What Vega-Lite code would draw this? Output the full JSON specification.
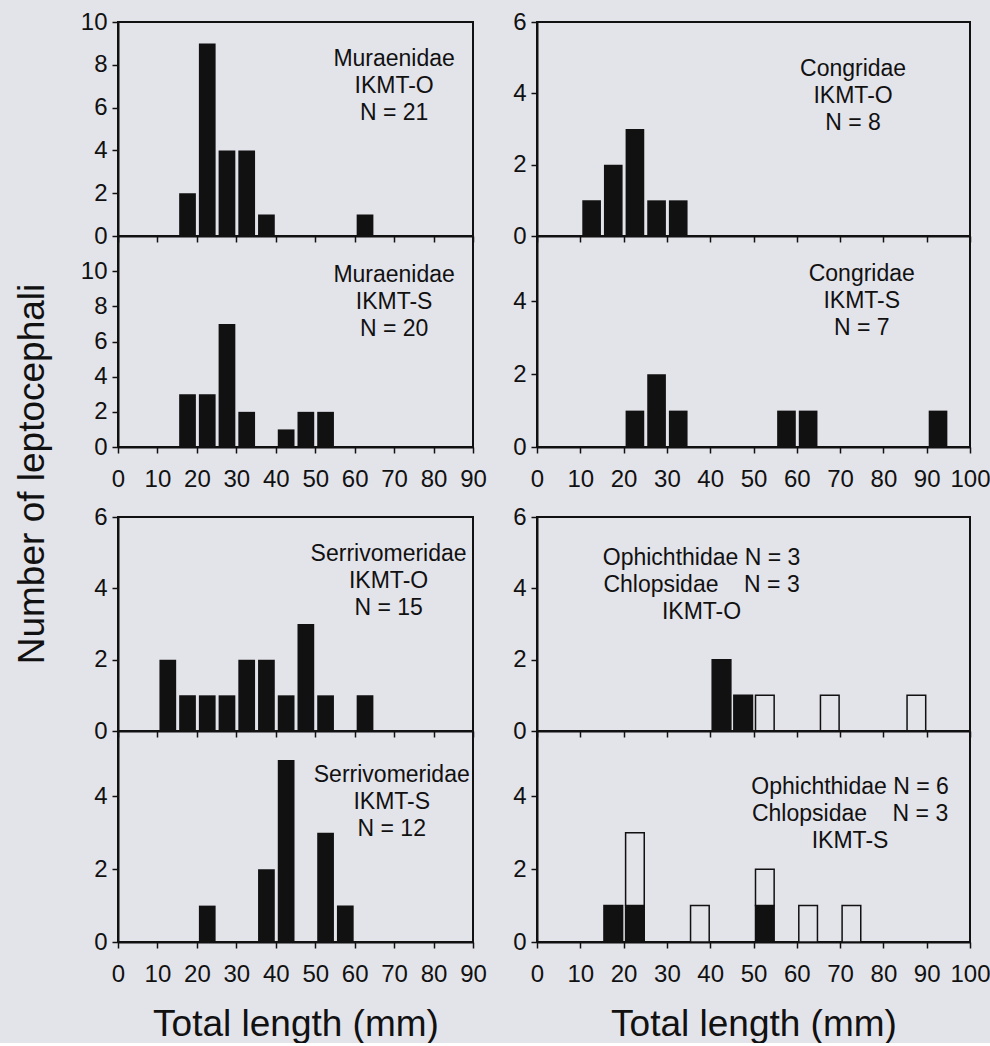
{
  "$schema": "https://vega.github.io/schema/vega-lite/v6.json",
  "padding": {"left": 14, "top": 9, "right": 0, "bottom": 0},
  "background": "#e3e3ea",
  "title": {"text": "Number of leptocephali", "orient": "left", "anchor": "middle", "fontSize": 37, "fontWeight": "normal", "color": "#111", "offset": 27, "dx": 52},
  "datasets": {
    "bars": [
      {"panel": "p1", "family": "Muraenidae", "lo": 15, "hi": 20, "count": 2},
      {"panel": "p1", "family": "Muraenidae", "lo": 20, "hi": 25, "count": 9},
      {"panel": "p1", "family": "Muraenidae", "lo": 25, "hi": 30, "count": 4},
      {"panel": "p1", "family": "Muraenidae", "lo": 30, "hi": 35, "count": 4},
      {"panel": "p1", "family": "Muraenidae", "lo": 35, "hi": 40, "count": 1},
      {"panel": "p1", "family": "Muraenidae", "lo": 60, "hi": 65, "count": 1},
      {"panel": "p2", "family": "Muraenidae", "lo": 15, "hi": 20, "count": 3},
      {"panel": "p2", "family": "Muraenidae", "lo": 20, "hi": 25, "count": 3},
      {"panel": "p2", "family": "Muraenidae", "lo": 25, "hi": 30, "count": 7},
      {"panel": "p2", "family": "Muraenidae", "lo": 30, "hi": 35, "count": 2},
      {"panel": "p2", "family": "Muraenidae", "lo": 40, "hi": 45, "count": 1},
      {"panel": "p2", "family": "Muraenidae", "lo": 45, "hi": 50, "count": 2},
      {"panel": "p2", "family": "Muraenidae", "lo": 50, "hi": 55, "count": 2},
      {"panel": "p3", "family": "Congridae", "lo": 10, "hi": 15, "count": 1},
      {"panel": "p3", "family": "Congridae", "lo": 15, "hi": 20, "count": 2},
      {"panel": "p3", "family": "Congridae", "lo": 20, "hi": 25, "count": 3},
      {"panel": "p3", "family": "Congridae", "lo": 25, "hi": 30, "count": 1},
      {"panel": "p3", "family": "Congridae", "lo": 30, "hi": 35, "count": 1},
      {"panel": "p4", "family": "Congridae", "lo": 20, "hi": 25, "count": 1},
      {"panel": "p4", "family": "Congridae", "lo": 25, "hi": 30, "count": 2},
      {"panel": "p4", "family": "Congridae", "lo": 30, "hi": 35, "count": 1},
      {"panel": "p4", "family": "Congridae", "lo": 55, "hi": 60, "count": 1},
      {"panel": "p4", "family": "Congridae", "lo": 60, "hi": 65, "count": 1},
      {"panel": "p4", "family": "Congridae", "lo": 90, "hi": 95, "count": 1},
      {"panel": "p5", "family": "Serrivomeridae", "lo": 10, "hi": 15, "count": 2},
      {"panel": "p5", "family": "Serrivomeridae", "lo": 15, "hi": 20, "count": 1},
      {"panel": "p5", "family": "Serrivomeridae", "lo": 20, "hi": 25, "count": 1},
      {"panel": "p5", "family": "Serrivomeridae", "lo": 25, "hi": 30, "count": 1},
      {"panel": "p5", "family": "Serrivomeridae", "lo": 30, "hi": 35, "count": 2},
      {"panel": "p5", "family": "Serrivomeridae", "lo": 35, "hi": 40, "count": 2},
      {"panel": "p5", "family": "Serrivomeridae", "lo": 40, "hi": 45, "count": 1},
      {"panel": "p5", "family": "Serrivomeridae", "lo": 45, "hi": 50, "count": 3},
      {"panel": "p5", "family": "Serrivomeridae", "lo": 50, "hi": 55, "count": 1},
      {"panel": "p5", "family": "Serrivomeridae", "lo": 60, "hi": 65, "count": 1},
      {"panel": "p6", "family": "Serrivomeridae", "lo": 20, "hi": 25, "count": 1},
      {"panel": "p6", "family": "Serrivomeridae", "lo": 35, "hi": 40, "count": 2},
      {"panel": "p6", "family": "Serrivomeridae", "lo": 40, "hi": 45, "count": 5},
      {"panel": "p6", "family": "Serrivomeridae", "lo": 50, "hi": 55, "count": 3},
      {"panel": "p6", "family": "Serrivomeridae", "lo": 55, "hi": 60, "count": 1},
      {"panel": "p7", "family": "Chlopsidae", "lo": 40, "hi": 45, "count": 2},
      {"panel": "p7", "family": "Chlopsidae", "lo": 45, "hi": 50, "count": 1},
      {"panel": "p7", "family": "Ophichthidae", "lo": 50, "hi": 55, "count": 1},
      {"panel": "p7", "family": "Ophichthidae", "lo": 65, "hi": 70, "count": 1},
      {"panel": "p7", "family": "Ophichthidae", "lo": 85, "hi": 90, "count": 1},
      {"panel": "p8", "family": "Chlopsidae", "lo": 15, "hi": 20, "count": 1},
      {"panel": "p8", "family": "Chlopsidae", "lo": 20, "hi": 25, "count": 1},
      {"panel": "p8", "family": "Chlopsidae", "lo": 50, "hi": 55, "count": 1},
      {"panel": "p8", "family": "Ophichthidae", "lo": 20, "hi": 25, "count": 2},
      {"panel": "p8", "family": "Ophichthidae", "lo": 35, "hi": 40, "count": 1},
      {"panel": "p8", "family": "Ophichthidae", "lo": 50, "hi": 55, "count": 1},
      {"panel": "p8", "family": "Ophichthidae", "lo": 60, "hi": 65, "count": 1},
      {"panel": "p8", "family": "Ophichthidae", "lo": 70, "hi": 75, "count": 1}
    ],
    "notes": [
      {"panel": "p1", "label": "Muraenidae\nIKMT-O\nN = 21"},
      {"panel": "p2", "label": "Muraenidae\nIKMT-S\nN = 20"},
      {"panel": "p3", "label": "Congridae\nIKMT-O\nN = 8"},
      {"panel": "p4", "label": "Congridae\nIKMT-S\nN = 7"},
      {"panel": "p5", "label": "Serrivomeridae\nIKMT-O\nN = 15"},
      {"panel": "p6", "label": "Serrivomeridae\nIKMT-S\nN = 12"},
      {"panel": "p7", "label": "Ophichthidae N = 3\nChlopsidae\u00a0\u00a0\u00a0\u00a0N = 3\nIKMT-O"},
      {"panel": "p8", "label": "Ophichthidae N = 6\nChlopsidae\u00a0\u00a0\u00a0\u00a0N = 3\nIKMT-S"}
    ]
  },
  "spacing": 12,
  "vconcat": [
    {
      "spacing": 23,
      "hconcat": [
        {
          "spacing": 0, "bounds": "flush",
          "vconcat": [
            {
              "width": 355, "height": 214,
              "layer": [
                {"data": {"name": "bars"}, "transform": [{"filter": "datum.panel === 'p1'"}],
                 "mark": {"type": "bar", "color": "#111", "binSpacing": 3},
                 "encoding": {
                   "x": {"field": "lo", "type": "quantitative", "bin": "binned", "scale": {"domain": [0, 90], "nice": false}, "axis": {"values": [0,10,20,30,40,50,60,70,80,90], "labels": false, "title": null}},
                   "x2": {"field": "hi"},
                   "y": {"field": "count", "type": "quantitative", "scale": {"domain": [0, 10], "nice": false}, "axis": {"values": [0,2,4,6,8,10], "title": null}}
                 }},
                {"data": {"name": "notes"}, "transform": [{"filter": "datum.panel === 'p1'"}],
                 "mark": {"type": "text", "lineBreak": "\n", "align": "center", "baseline": "top", "fontSize": 23, "lineHeight": 27, "color": "#111"},
                 "encoding": {
                   "x": {"datum": 70, "type": "quantitative", "scale": {"domain": [0, 90], "nice": false}, "axis": {"values": [0,10,20,30,40,50,60,70,80,90], "labels": false, "title": null}},
                   "y": {"datum": 8.8, "type": "quantitative", "scale": {"domain": [0, 10], "nice": false}, "axis": {"values": [0,2,4,6,8,10], "title": null}},
                   "text": {"field": "label"}
                 }}
              ]
            },
            {
              "width": 355, "height": 211,
              "layer": [
                {"data": {"name": "bars"}, "transform": [{"filter": "datum.panel === 'p2'"}],
                 "mark": {"type": "bar", "color": "#111", "binSpacing": 3},
                 "encoding": {
                   "x": {"field": "lo", "type": "quantitative", "bin": "binned", "scale": {"domain": [0, 90], "nice": false}, "axis": {"values": [0,10,20,30,40,50,60,70,80,90], "title": null}},
                   "x2": {"field": "hi"},
                   "y": {"field": "count", "type": "quantitative", "scale": {"domain": [0, 12], "nice": false}, "axis": {"values": [0,2,4,6,8,10], "title": null}}
                 }},
                {"data": {"name": "notes"}, "transform": [{"filter": "datum.panel === 'p2'"}],
                 "mark": {"type": "text", "lineBreak": "\n", "align": "center", "baseline": "top", "fontSize": 23, "lineHeight": 27, "color": "#111"},
                 "encoding": {
                   "x": {"datum": 70, "type": "quantitative", "scale": {"domain": [0, 90], "nice": false}, "axis": {"values": [0,10,20,30,40,50,60,70,80,90], "title": null}},
                   "y": {"datum": 10.4, "type": "quantitative", "scale": {"domain": [0, 12], "nice": false}, "axis": {"values": [0,2,4,6,8,10], "title": null}},
                   "text": {"field": "label"}
                 }}
              ]
            }
          ]
        },
        {
          "spacing": 0, "bounds": "flush",
          "vconcat": [
            {
              "width": 433, "height": 214,
              "layer": [
                {"data": {"name": "bars"}, "transform": [{"filter": "datum.panel === 'p3'"}],
                 "mark": {"type": "bar", "color": "#111", "binSpacing": 3},
                 "encoding": {
                   "x": {"field": "lo", "type": "quantitative", "bin": "binned", "scale": {"domain": [0, 100], "nice": false}, "axis": {"values": [0,10,20,30,40,50,60,70,80,90,100], "labels": false, "title": null}},
                   "x2": {"field": "hi"},
                   "y": {"field": "count", "type": "quantitative", "scale": {"domain": [0, 6], "nice": false}, "axis": {"values": [0,2,4,6], "title": null}}
                 }},
                {"data": {"name": "notes"}, "transform": [{"filter": "datum.panel === 'p3'"}],
                 "mark": {"type": "text", "lineBreak": "\n", "align": "center", "baseline": "top", "fontSize": 23, "lineHeight": 27, "color": "#111"},
                 "encoding": {
                   "x": {"datum": 73, "type": "quantitative", "scale": {"domain": [0, 100], "nice": false}, "axis": {"values": [0,10,20,30,40,50,60,70,80,90,100], "labels": false, "title": null}},
                   "y": {"datum": 5.0, "type": "quantitative", "scale": {"domain": [0, 6], "nice": false}, "axis": {"values": [0,2,4,6], "title": null}},
                   "text": {"field": "label"}
                 }}
              ]
            },
            {
              "width": 433, "height": 211,
              "layer": [
                {"data": {"name": "bars"}, "transform": [{"filter": "datum.panel === 'p4'"}],
                 "mark": {"type": "bar", "color": "#111", "binSpacing": 3},
                 "encoding": {
                   "x": {"field": "lo", "type": "quantitative", "bin": "binned", "scale": {"domain": [0, 100], "nice": false}, "axis": {"values": [0,10,20,30,40,50,60,70,80,90,100], "title": null}},
                   "x2": {"field": "hi"},
                   "y": {"field": "count", "type": "quantitative", "scale": {"domain": [0, 5.8], "nice": false}, "axis": {"values": [0,2,4], "title": null}}
                 }},
                {"data": {"name": "notes"}, "transform": [{"filter": "datum.panel === 'p4'"}],
                 "mark": {"type": "text", "lineBreak": "\n", "align": "center", "baseline": "top", "fontSize": 23, "lineHeight": 27, "color": "#111"},
                 "encoding": {
                   "x": {"datum": 75, "type": "quantitative", "scale": {"domain": [0, 100], "nice": false}, "axis": {"values": [0,10,20,30,40,50,60,70,80,90,100], "title": null}},
                   "y": {"datum": 5.05, "type": "quantitative", "scale": {"domain": [0, 5.8], "nice": false}, "axis": {"values": [0,2,4], "title": null}},
                   "text": {"field": "label"}
                 }}
              ]
            }
          ]
        }
      ]
    },
    {
      "spacing": 23,
      "hconcat": [
        {
          "spacing": 0, "bounds": "flush",
          "vconcat": [
            {
              "width": 355, "height": 214,
              "layer": [
                {"data": {"name": "bars"}, "transform": [{"filter": "datum.panel === 'p5'"}],
                 "mark": {"type": "bar", "color": "#111", "binSpacing": 3},
                 "encoding": {
                   "x": {"field": "lo", "type": "quantitative", "bin": "binned", "scale": {"domain": [0, 90], "nice": false}, "axis": {"values": [0,10,20,30,40,50,60,70,80,90], "labels": false, "title": null}},
                   "x2": {"field": "hi"},
                   "y": {"field": "count", "type": "quantitative", "scale": {"domain": [0, 6], "nice": false}, "axis": {"values": [0,2,4,6], "title": null}}
                 }},
                {"data": {"name": "notes"}, "transform": [{"filter": "datum.panel === 'p5'"}],
                 "mark": {"type": "text", "lineBreak": "\n", "align": "center", "baseline": "top", "fontSize": 23, "lineHeight": 27, "color": "#111"},
                 "encoding": {
                   "x": {"datum": 68.6, "type": "quantitative", "scale": {"domain": [0, 90], "nice": false}, "axis": {"values": [0,10,20,30,40,50,60,70,80,90], "labels": false, "title": null}},
                   "y": {"datum": 5.28, "type": "quantitative", "scale": {"domain": [0, 6], "nice": false}, "axis": {"values": [0,2,4,6], "title": null}},
                   "text": {"field": "label"}
                 }}
              ]
            },
            {
              "width": 355, "height": 211,
              "layer": [
                {"data": {"name": "bars"}, "transform": [{"filter": "datum.panel === 'p6'"}],
                 "mark": {"type": "bar", "color": "#111", "binSpacing": 3},
                 "encoding": {
                   "x": {"field": "lo", "type": "quantitative", "bin": "binned", "scale": {"domain": [0, 90], "nice": false}, "axis": {"values": [0,10,20,30,40,50,60,70,80,90], "title": "Total length (mm)"}},
                   "x2": {"field": "hi"},
                   "y": {"field": "count", "type": "quantitative", "scale": {"domain": [0, 5.8], "nice": false}, "axis": {"values": [0,2,4], "title": null}}
                 }},
                {"data": {"name": "notes"}, "transform": [{"filter": "datum.panel === 'p6'"}],
                 "mark": {"type": "text", "lineBreak": "\n", "align": "center", "baseline": "top", "fontSize": 23, "lineHeight": 27, "color": "#111"},
                 "encoding": {
                   "x": {"datum": 69.4, "type": "quantitative", "scale": {"domain": [0, 90], "nice": false}, "axis": {"values": [0,10,20,30,40,50,60,70,80,90], "title": "Total length (mm)"}},
                   "y": {"datum": 4.9, "type": "quantitative", "scale": {"domain": [0, 5.8], "nice": false}, "axis": {"values": [0,2,4], "title": null}},
                   "text": {"field": "label"}
                 }}
              ]
            }
          ]
        },
        {
          "spacing": 0, "bounds": "flush",
          "vconcat": [
            {
              "width": 433, "height": 214,
              "layer": [
                {"data": {"name": "bars"}, "transform": [{"filter": "datum.panel === 'p7'"}],
                 "mark": {"type": "bar", "stroke": "#111", "strokeWidth": 1.5, "binSpacing": 3},
                 "encoding": {
                   "x": {"field": "lo", "type": "quantitative", "bin": "binned", "scale": {"domain": [0, 100], "nice": false}, "axis": {"values": [0,10,20,30,40,50,60,70,80,90,100], "labels": false, "title": null}},
                   "x2": {"field": "hi"},
                   "y": {"field": "count", "type": "quantitative", "stack": "zero", "scale": {"domain": [0, 6], "nice": false}, "axis": {"values": [0,2,4,6], "title": null}},
                   "color": {"field": "family", "type": "nominal", "scale": {"domain": ["Chlopsidae", "Ophichthidae"], "range": ["#111111", "#e3e3ea"]}, "legend": null},
                   "order": {"field": "family", "sort": "ascending"}
                 }},
                {"data": {"name": "notes"}, "transform": [{"filter": "datum.panel === 'p7'"}],
                 "mark": {"type": "text", "lineBreak": "\n", "align": "center", "baseline": "top", "fontSize": 23, "lineHeight": 27, "color": "#111"},
                 "encoding": {
                   "x": {"datum": 38, "type": "quantitative", "scale": {"domain": [0, 100], "nice": false}, "axis": {"values": [0,10,20,30,40,50,60,70,80,90,100], "labels": false, "title": null}},
                   "y": {"datum": 5.15, "type": "quantitative", "scale": {"domain": [0, 6], "nice": false}, "axis": {"values": [0,2,4,6], "title": null}},
                   "text": {"field": "label"}
                 }}
              ]
            },
            {
              "width": 433, "height": 211,
              "layer": [
                {"data": {"name": "bars"}, "transform": [{"filter": "datum.panel === 'p8'"}],
                 "mark": {"type": "bar", "stroke": "#111", "strokeWidth": 1.5, "binSpacing": 3},
                 "encoding": {
                   "x": {"field": "lo", "type": "quantitative", "bin": "binned", "scale": {"domain": [0, 100], "nice": false}, "axis": {"values": [0,10,20,30,40,50,60,70,80,90,100], "title": "Total length (mm)"}},
                   "x2": {"field": "hi"},
                   "y": {"field": "count", "type": "quantitative", "stack": "zero", "scale": {"domain": [0, 5.8], "nice": false}, "axis": {"values": [0,2,4], "title": null}},
                   "color": {"field": "family", "type": "nominal", "scale": {"domain": ["Chlopsidae", "Ophichthidae"], "range": ["#111111", "#e3e3ea"]}, "legend": null},
                   "order": {"field": "family", "sort": "ascending"}
                 }},
                {"data": {"name": "notes"}, "transform": [{"filter": "datum.panel === 'p8'"}],
                 "mark": {"type": "text", "lineBreak": "\n", "align": "center", "baseline": "top", "fontSize": 23, "lineHeight": 27, "color": "#111"},
                 "encoding": {
                   "x": {"datum": 72.3, "type": "quantitative", "scale": {"domain": [0, 100], "nice": false}, "axis": {"values": [0,10,20,30,40,50,60,70,80,90,100], "title": "Total length (mm)"}},
                   "y": {"datum": 4.56, "type": "quantitative", "scale": {"domain": [0, 5.8], "nice": false}, "axis": {"values": [0,2,4], "title": null}},
                   "text": {"field": "label"}
                 }}
              ]
            }
          ]
        }
      ]
    }
  ],
  "resolve": {"scale": {"x": "independent", "y": "independent", "color": "independent"}},
  "config": {
    "font": "Liberation Sans",
    "view": {"stroke": "#111", "strokeWidth": 2},
    "axis": {
      "domainColor": "#111", "domainWidth": 2, "tickColor": "#111", "tickWidth": 1.5, "tickSize": 6,
      "labelFontSize": 24, "labelColor": "#111", "labelFlush": false, "labelOverlap": false, "labelBound": false,
      "grid": false, "titleFontSize": 37, "titleFontWeight": "normal", "titleColor": "#111"
    },
    "axisX": {"labelPadding": 14, "titlePadding": 20},
    "axisY": {"labelPadding": 5}
  }
}
